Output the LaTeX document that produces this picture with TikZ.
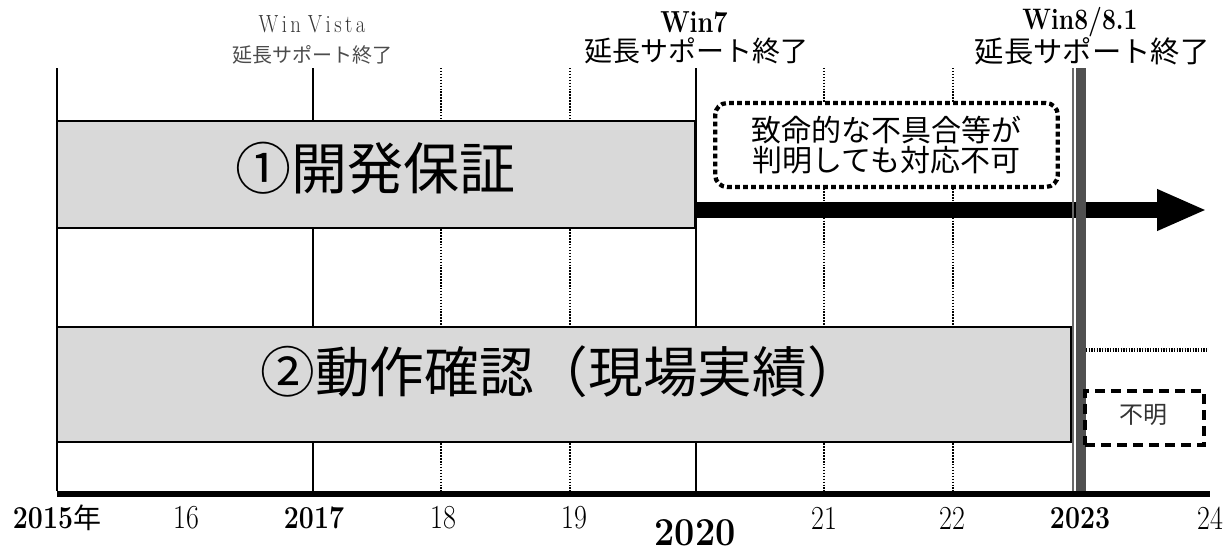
\documentclass[tikz,border=0pt]{standalone}
\usepackage{graphicx}
\usepackage{fontspec}
\newfontfamily\jp{Noto Sans CJK JP}
\usetikzlibrary{arrows.meta,positioning}

\definecolor{boxgray}{RGB}{217,217,217}
\definecolor{endgray}{RGB}{80,80,80}

% taller latin digits and letters
\newcommand{\talltext}[1]{\scalebox{1}[1.2]{#1}}

\tikzset{
	year line/.style={line width=2.2pt},
	dot line/.style={line width=2.2pt, color=black, dash pattern=on 1.1pt off 1.1pt},
	period box/.style={draw, line width=1.5pt, fill=boxgray, inner sep=0pt},
	box text/.style={font=\jp\fontsize{42}{44}\selectfont, inner sep=0pt},
	note box/.style={draw, fill=white, line width=3.2pt, rounded corners=9pt, dash pattern=on 3.6pt off 2.4pt, align=center, inner sep=0pt,
		font=\jp\fontsize{22.5}{22}\selectfont},
	unknown box/.style={draw, line width=2.6pt, dash pattern=on 7.5pt off 4.5pt, inner sep=0pt},
	big arrow/.style={line width=12pt, -{Triangle[length=37.5pt,width=28.5pt]}},
	year num/.style={font=\fontsize{21}{24}\selectfont, inner sep=0pt},
	year big/.style={font=\bfseries\fontsize{20}{24}\selectfont, inner sep=0pt}}
\tikzset{every picture/.style={line width=0.75pt}}

\begin{document}
\begin{tikzpicture}[x=0.75pt,y=0.75pt,yscale=-1,xscale=1]
	\useasboundingbox (0,0) rectangle (1230,553);

	%Straight Lines [year 2015]
	\draw [year line] (57,68) -- (57,491) ;
	%Straight Lines [year 2017]
	\draw [year line] (313,68) -- (313,491) ;
	%Straight Lines [year 2020]
	\draw [year line] (696,68) -- (696,491) ;
	%Dotted Lines [years 18, 19, 21, 22]
	\draw [dot line] (441,68) -- (441,491) ;
	\draw [dot line] (570,68) -- (570,491) ;
	\draw [dot line] (824,68) -- (824,491) ;
	\draw [dot line] (953,68) -- (953,491) ;

	%Shape: Rectangle [development]
	\node [period box, minimum width=478.5pt, minimum height=80.25pt] (dev) at (376,174.5) {};
	%Shape: Rectangle [operation check]
	\node [period box, minimum width=760.5pt, minimum height=86.25pt] (ops) at (564,384.5) {};

	%Right Arrow
	\coordinate (arrowstart) at (695,210);
	\coordinate (arrowend) at (1207,210);
	\draw [big arrow] (arrowstart) -- (arrowend) ;

	%Straight Lines [year 2023, double]
	\draw [line width=1.9pt, color=endgray!85] (1073,68) -- (1073,491) ;
	\draw [line width=7.5pt, color=endgray] (1081,68) -- (1081,491) ;

	%Dotted Line [after 2023]
	\draw [line width=3pt, dash pattern=on 1pt off 1pt] (1086,350) -- (1207,350) ;

	%Rounded Rectangle [note]
	\node [note box, minimum width=257pt, minimum height=63pt] (note) at (886.5,145) {致命的な不具合等が\\判明しても対応不可};
	%Dashed Rectangle [unknown]
	\node [unknown box, minimum width=89pt, minimum height=40.5pt] (unknown) at (1144.5,418) {};

	%Time Axis
	\draw [line width=4.5pt] (57,494) -- (1210,494) ;

	% Text Node
	\node [box text] (devtext) at (375,168) {①開発保証};
	% Text Node
	\node [box text, font=\jp\fontsize{41}{44}\selectfont] (opstext) at (561,372) {②動作確認（現場実績）};
	% Text Node
	\node [font=\jp\fontsize{18}{20}\selectfont, color=black!80] (unknowntext) at (1143,415) {不明};

	% Text Node
	\node [font=\fontsize{15.5}{16}\selectfont, color=black!80] (vista) at (312,24) {\talltext{W\,i\,n\,\,V\,i\,s\,t\,a}};
	% Text Node
	\node [font=\jp\fontsize{15}{16}\selectfont, color=black!70] (vistanote) at (312,55) {延長サポート終了};
	% Text Node
	\node [font=\bfseries\fontsize{19}{20}\selectfont] (seven) at (694,22) {\talltext{Win7}};
	% Text Node
	\node [font=\jp\fontsize{21}{22}\selectfont] (sevennote) at (696,51) {延長サポート終了};
	% Text Node
	\node [font=\bfseries\fontsize{18.5}{20}\selectfont] (eight) at (1080,22) {\talltext{Win8/8.1}};
	% Text Node
	\node [font=\jp\fontsize{22}{22}\selectfont] (eightnote) at (1092,51) {延長サポート終了};

	% Text Node
	\node [year big] (y2015) at (57,518) {\talltext{2015}{\jp\mdseries\fontsize{21}{24}\selectfont 年}};
	% Text Node
	\node [year num] (y16) at (186,518) {\talltext{16}};
	% Text Node
	\node [year big] (y2017) at (314,518) {\talltext{2017}};
	% Text Node
	\node [year num] (y18) at (443,518) {\talltext{18}};
	% Text Node
	\node [year num] (y19) at (574,518) {\talltext{19}};
	% Text Node
	\node [year big, font=\bfseries\fontsize{27}{30}\selectfont] (y2020) at (695,533) {\scalebox{1}[1.1]{2020}};
	% Text Node
	\node [year num] (y21) at (824,518) {\talltext{21}};
	% Text Node
	\node [year num] (y22) at (952,518) {\talltext{22}};
	% Text Node
	\node [year big] (y2023) at (1080,518) {\talltext{2023}};
	% Text Node
	\node [year num] (y24) at (1210,518) {\talltext{24}};

\end{tikzpicture}
\end{document}
